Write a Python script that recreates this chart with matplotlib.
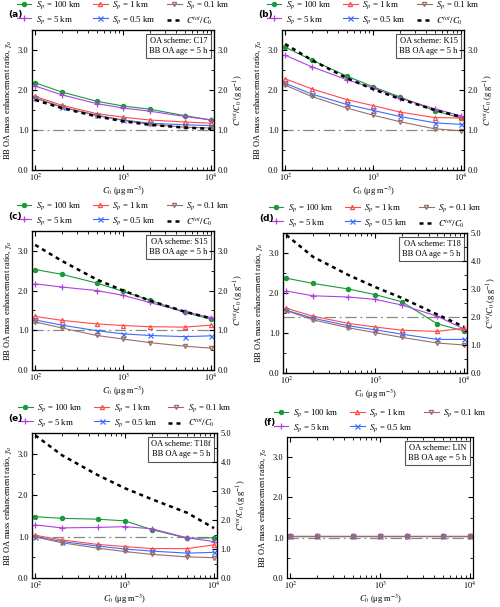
import numpy as np
import matplotlib
matplotlib.use("Agg")
import matplotlib.pyplot as plt
from matplotlib.ticker import FixedLocator, NullFormatter, LogLocator

plt.rcParams['font.family'] = ['Liberation Serif', 'DejaVu Serif']
plt.rcParams['mathtext.fontset'] = 'stix'
plt.rcParams['font.size'] = 6

C0 = [100, 200, 500, 1000, 2000, 5000, 10000]

series_labels = ['$S_p$ = 100 km', '$S_p$ = 5 km', '$S_p$ = 1 km', '$S_p$ = 0.5 km', '$S_p$ = 0.1 km']
panel_letters = ['(a)', '(b)', '(c)', '(d)', '(e)', '(f)']
schemes = ['C17', 'K15', 'S15', 'T18', 'T18f', 'LIN']

# gamma_a for each panel: [Sp=100, Sp=5, Sp=1, Sp=0.5, Sp=0.1]
gamma_a = [
    [[2.18, 1.95, 1.72, 1.60, 1.52, 1.36, 1.25],
     [2.10, 1.88, 1.66, 1.55, 1.47, 1.34, 1.25],
     [1.84, 1.62, 1.41, 1.32, 1.25, 1.20, 1.17],
     [1.80, 1.57, 1.37, 1.25, 1.17, 1.13, 1.11],
     [1.80, 1.58, 1.36, 1.24, 1.14, 1.07, 1.05]],
    [[3.07, 2.75, 2.35, 2.08, 1.83, 1.48, 1.30],
     [2.87, 2.58, 2.26, 2.05, 1.80, 1.53, 1.35],
     [2.28, 2.03, 1.76, 1.61, 1.45, 1.31, 1.30],
     [2.17, 1.90, 1.64, 1.49, 1.34, 1.18, 1.14],
     [2.12, 1.84, 1.55, 1.37, 1.21, 1.03, 0.98]],
    [[2.53, 2.41, 2.19, 1.98, 1.76, 1.45, 1.28],
     [2.17, 2.09, 2.00, 1.88, 1.70, 1.47, 1.32],
     [1.35, 1.25, 1.16, 1.12, 1.09, 1.08, 1.13],
     [1.26, 1.13, 0.99, 0.91, 0.87, 0.84, 0.86],
     [1.21, 1.06, 0.87, 0.78, 0.69, 0.60, 0.55]],
    [[2.37, 2.24, 2.10, 1.96, 1.78, 1.23, 1.05],
     [2.05, 1.93, 1.90, 1.84, 1.70, 1.42, 1.10],
     [1.62, 1.42, 1.24, 1.15, 1.07, 1.04, 1.12],
     [1.57, 1.37, 1.18, 1.08, 0.97, 0.84, 0.84],
     [1.56, 1.33, 1.13, 1.01, 0.89, 0.75, 0.70]],
    [[1.48, 1.44, 1.42, 1.38, 1.17, 0.96, 0.97],
     [1.28, 1.21, 1.22, 1.24, 1.19, 0.97, 0.88],
     [1.03, 0.92, 0.81, 0.76, 0.71, 0.71, 0.80],
     [1.00, 0.88, 0.77, 0.70, 0.65, 0.60, 0.62],
     [0.99, 0.85, 0.72, 0.64, 0.57, 0.51, 0.49]],
    [[1.04, 1.04, 1.04, 1.04, 1.04, 1.04, 1.04],
     [1.04, 1.04, 1.04, 1.04, 1.04, 1.04, 1.04],
     [1.04, 1.04, 1.04, 1.04, 1.04, 1.04, 1.04],
     [1.04, 1.04, 1.04, 1.04, 1.04, 1.04, 1.04],
     [1.04, 1.04, 1.04, 1.04, 1.04, 1.04, 1.04]],
]

# Ctot/C0 (right axis), None for panel f
ctot_ratio = [
    [1.75, 1.55, 1.34, 1.22, 1.13, 1.06, 1.03],
    [3.15, 2.75, 2.30, 2.02, 1.78, 1.50, 1.33],
    [3.15, 2.75, 2.28, 2.00, 1.75, 1.47, 1.30],
    [4.93, 4.15, 3.50, 3.07, 2.68, 2.09, 1.65],
    [4.92, 4.23, 3.55, 3.10, 2.72, 2.25, 1.72],
    None,
]
right_max = [3.5, 3.5, 3.5, 5.0, 5.0, None]
ref_line = [1.0, 1.0, 1.0, 1.4, 1.0, 1.0]

colors = ['#1a9a3a', '#b040e0', '#ff4a4a', '#3a6cff', '#9a6e66']
markers = ['o', '+', '^', 'x', 'v']
mfc = ['#1a9a3a', '#b040e0', 'none', '#3a6cff', 'none']
msizes = [3.0, 4.5, 3.0, 3.6, 3.0]

W, H = 500, 607
boxes = [(32, 30, 214, 170), (282, 30, 464, 170),
         (32, 231, 214, 370), (283, 233, 467, 373),
         (32, 433, 217, 578), (287, 437, 473, 578)]

fig = plt.figure(figsize=(5.0, 6.07), dpi=100)

for i in range(6):
    x0, y0, x1, y1 = boxes[i]
    ax = fig.add_axes([x0 / W, 1 - y1 / H, (x1 - x0) / W, (y1 - y0) / H])
    handles = []
    for k in range(5):
        h, = ax.plot(C0, gamma_a[i][k], color=colors[k], marker=markers[k],
                     mfc=mfc[k], mec=colors[k], ms=msizes[k], lw=0.8,
                     mew=0.9, label=series_labels[k])
        handles.append(h)
    ax.axhline(ref_line[i], color='#888888', lw=0.9, ls=(0, (9, 3, 1.5, 3)), zorder=0)
    ax.set_xscale('log')
    ax.set_xlim(92, 10800)
    ax.set_ylim(0, 3.5)
    ax.set_yticks([0, 1, 2, 3])
    ax.set_yticklabels(['0.0', '1.0', '2.0', '3.0'])
    ax.yaxis.set_minor_locator(FixedLocator([0.5, 1.5, 2.5, 3.5]))
    ax.set_xticks([100, 1000, 10000])
    ax.set_xticklabels(['$10^2$', '$10^3$', '$10^4$'])
    ax.xaxis.set_minor_locator(LogLocator(base=10, subs=np.arange(2, 10), numticks=20))
    ax.xaxis.set_minor_formatter(NullFormatter())
    ax.tick_params(which='both', direction='in', top=True, labelsize=6, pad=2.5)
    ax.tick_params(axis='x', which='both', pad=1.5)
    ax.tick_params(which='major', length=3.5, width=0.8)
    ax.tick_params(which='minor', length=2, width=0.6)
    ax.set_xlabel('$C_0$ (μg m$^{-3}$)', fontsize=6, labelpad=1)
    ax.set_ylabel('BB OA mass enhancement ratio, $\\gamma_a$', fontsize=6, labelpad=3)
    for s in ax.spines.values():
        s.set_linewidth(0.9)

    if ctot_ratio[i] is not None:
        ax2 = ax.twinx()
        hd, = ax2.plot(C0, ctot_ratio[i], color='black', lw=1.8, ls=(0, (1.6, 1.6)),
                       label='$C^{tot}/C_0$')
        handles.append(hd)
        rm = right_max[i]
        ax2.set_ylim(0, rm)
        ticks = list(np.arange(0, rm + 0.01, 1.0))
        ax2.set_yticks(ticks)
        ax2.set_yticklabels(['%.1f' % t for t in ticks])
        ax2.yaxis.set_minor_locator(FixedLocator(list(np.arange(0.5, rm + 0.01, 1.0))))
        ax2.tick_params(which='both', direction='in', labelsize=6, pad=2.5)
        ax2.tick_params(which='major', length=3.5, width=0.8)
        ax2.tick_params(which='minor', length=2, width=0.6)
        ax2.set_ylabel('$C^{tot}/C_0$ (g g$^{-1}$)', fontsize=6, labelpad=3)
    else:
        ax.tick_params(which='both', right=True)

    ax.text(0.965, 0.95, 'OA scheme: %s\nBB OA age = 5 h' % schemes[i],
            transform=ax.transAxes, ha='right', va='top', fontsize=6,
            linespacing=1.35,
            bbox=dict(boxstyle='square,pad=0.4', fc='white', ec='#555555', lw=0.8))

    ax.legend(handles=handles, ncol=3, loc='lower center',
              bbox_to_anchor=(0.5, 1.0), frameon=False, fontsize=6.3,
              handlelength=1.7, handletextpad=0.5, columnspacing=1.3,
              labelspacing=0.3, borderaxespad=0.2, borderpad=0.2)

    fig.text((x0 - 24) / W, 1 - (y0 - 15) / H, panel_letters[i], fontsize=6.5,
             fontweight='bold', family='DejaVu Sans', ha='left', va='center')

fig.savefig('out.png', dpi=100)
